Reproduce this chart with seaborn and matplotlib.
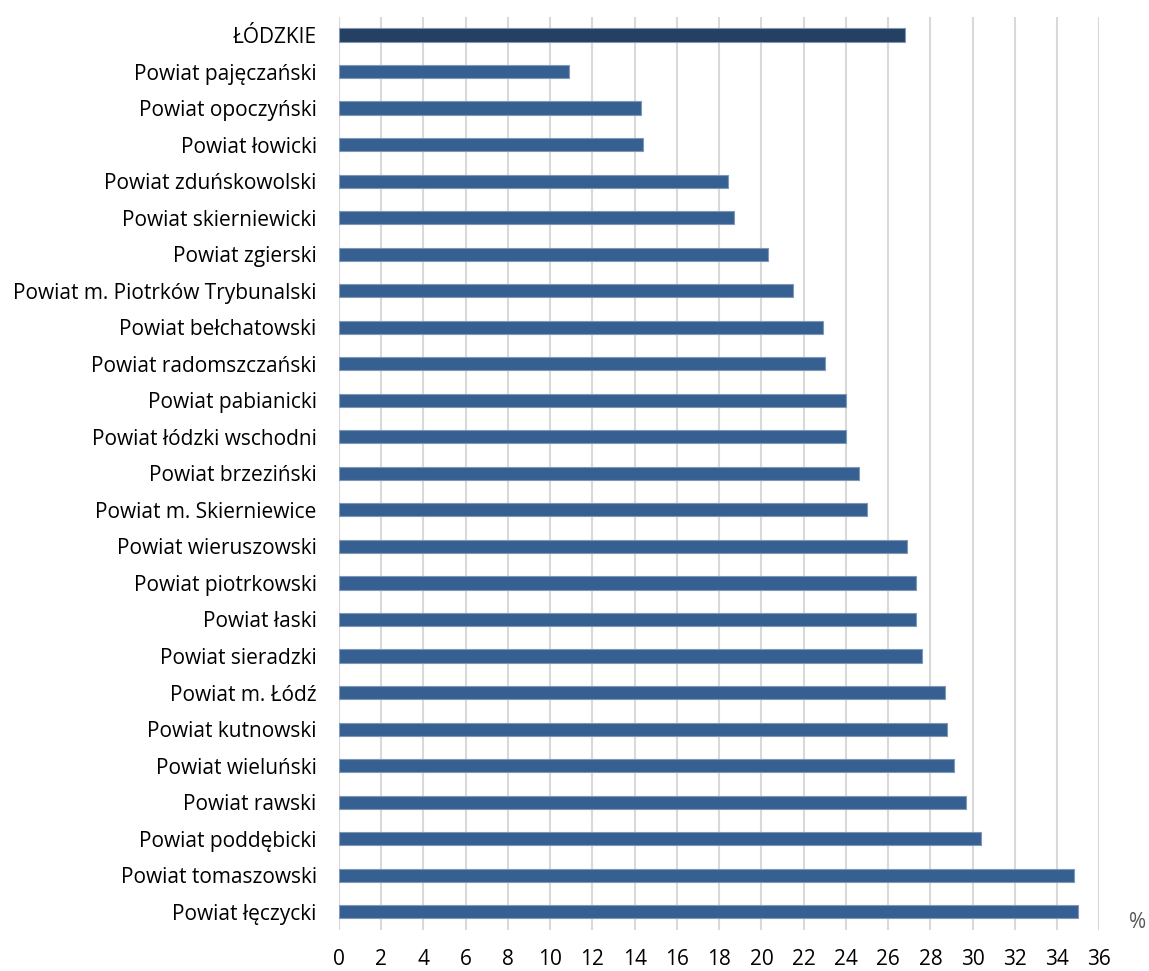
import matplotlib
matplotlib.use("Agg")
import matplotlib.pyplot as plt
import seaborn as sns
import pandas as pd

categories = [
    "ŁÓDZKIE",
    "Powiat pajęczański",
    "Powiat opoczyński",
    "Powiat łowicki",
    "Powiat zduńskowolski",
    "Powiat skierniewicki",
    "Powiat zgierski",
    "Powiat m. Piotrków Trybunalski",
    "Powiat bełchatowski",
    "Powiat radomszczański",
    "Powiat pabianicki",
    "Powiat łódzki wschodni",
    "Powiat brzeziński",
    "Powiat m. Skierniewice",
    "Powiat wieruszowski",
    "Powiat piotrkowski",
    "Powiat łaski",
    "Powiat sieradzki",
    "Powiat m. Łódź",
    "Powiat kutnowski",
    "Powiat wieluński",
    "Powiat rawski",
    "Powiat poddębicki",
    "Powiat tomaszowski",
    "Powiat łęczycki",
]
values = [26.8, 10.9, 14.3, 14.4, 18.4, 18.7, 20.3, 21.5, 22.9, 23.0, 24.0, 24.0,
          24.6, 25.0, 26.9, 27.3, 27.3, 27.6, 28.7, 28.8, 29.1, 29.7, 30.4, 34.8, 35.0]
x_ticks = list(range(0, 37, 2))
unit_label = "%"

region_color = "#264061"
powiat_color = "#376092"

sns.set_theme(style="white")
plt.rcParams["font.family"] = ["Open Sans", "DejaVu Sans"]

df = pd.DataFrame({"name": categories, "value": values})
palette = {c: (region_color if i == 0 else powiat_color) for i, c in enumerate(categories)}

fig = plt.figure(figsize=(11.49, 9.71), dpi=100)
ax = fig.add_axes([0.295, 0.0422, 0.9568 - 0.295, 0.9828 - 0.0422])

sns.barplot(data=df, x="value", y="name", hue="name", palette=palette, legend=False,
            orient="h", width=0.36, saturation=1, edgecolor="#7f97b8", linewidth=0.8,
            ax=ax, zorder=3)

ax.set_xlim(0, 36)
ax.set_xticks(x_ticks)
ax.set_xticklabels([str(t) for t in x_ticks], fontsize=15, color="#000000")
ax.tick_params(axis="x", length=0, pad=14)
ax.tick_params(axis="y", length=0, pad=16, labelsize=15, labelcolor="#000000")
ax.xaxis.grid(True, color="#d9d9d9", linewidth=1.5, zorder=0)
ax.yaxis.grid(False)
for s in ax.spines.values():
    s.set_visible(False)
ax.set_xlabel("")
ax.set_ylabel("")
ax.axvline(0, color="#d9d9d9", linewidth=1.5, zorder=1)

fig.text(1138 / 1149, 1 - 922 / 971, unit_label, fontsize=15, color="#595959",
         ha="center", va="center")

fig.savefig("out.png", dpi=100)
